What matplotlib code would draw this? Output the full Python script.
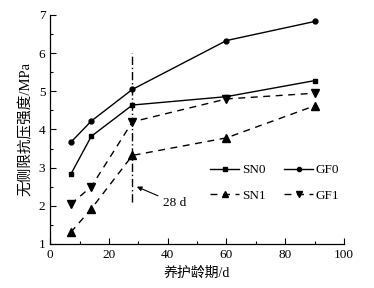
import matplotlib
matplotlib.use("Agg")
import matplotlib.pyplot as plt
from matplotlib.ticker import MultipleLocator

plt.rcParams['font.family'] = ['Liberation Serif', 'Noto Sans CJK SC']

days = [7, 14, 28, 60, 90]
sn0 = [2.82, 3.82, 4.64, 4.86, 5.28]
gf0 = [3.66, 4.22, 5.05, 6.33, 6.83]
sn1 = [1.30, 1.92, 3.32, 3.78, 4.62]
gf1 = [2.04, 2.50, 4.20, 4.80, 4.95]
mark_day = 28
mark_range = [2.1, 6.0]

fig = plt.figure(figsize=(3.74, 2.88), dpi=100)
ax = fig.add_axes([0.134, 0.153, 0.786, 0.795])

h_sn0, = ax.plot(days, sn0, '-', color='black', lw=1.0, marker='s', ms=3, label='SN0')
h_gf0, = ax.plot(days, gf0, '-', color='black', lw=1.0, marker='o', ms=3.5, label='GF0')
h_sn1, = ax.plot(days, sn1, '--', color='black', lw=1.0, marker='^', ms=5.5, dashes=(5, 4), label='SN1')
h_gf1, = ax.plot(days, gf1, '--', color='black', lw=1.0, marker='v', ms=5.5, dashes=(5, 4), label='GF1')

ax.plot([mark_day, mark_day], mark_range, color='black', lw=1.0, dashes=(6, 2, 1, 2))
ax.annotate('28 d', xy=(29.5, 2.5), xytext=(38.5, 2.07), fontsize=9.5,
            ha='left', va='center',
            arrowprops=dict(arrowstyle='-|>', color='black', lw=0.8, mutation_scale=7,
                            shrinkA=2, shrinkB=0))

ax.set_xlim(0, 100)
ax.set_ylim(1, 7)
ax.xaxis.set_major_locator(MultipleLocator(20))
ax.xaxis.set_minor_locator(MultipleLocator(10))
ax.yaxis.set_major_locator(MultipleLocator(1))
ax.yaxis.set_minor_locator(MultipleLocator(0.5))
ax.tick_params(which='both', direction='in', labelsize=9.5, width=0.8)
ax.tick_params(which='major', length=4)
ax.tick_params(which='minor', length=2.5)
for s in ['top', 'right']:
    ax.spines[s].set_visible(False)
for s in ['left', 'bottom']:
    ax.spines[s].set_linewidth(0.9)

ax.set_xlabel('养护龄期/d', fontsize=10)
ax.set_ylabel('无侧限抗压强度/MPa', fontsize=10.5)

ax.legend([h_sn0, h_sn1, h_gf0, h_gf1], ['SN0', 'SN1', 'GF0', 'GF1'],
          ncol=2, frameon=False, fontsize=9.5, loc='center', bbox_to_anchor=(0.765, 0.266),
          handlelength=2.2, columnspacing=1.4, labelspacing=1.0, handletextpad=0.2,
          markerscale=0.85)

fig.savefig('out.png', dpi=100)
